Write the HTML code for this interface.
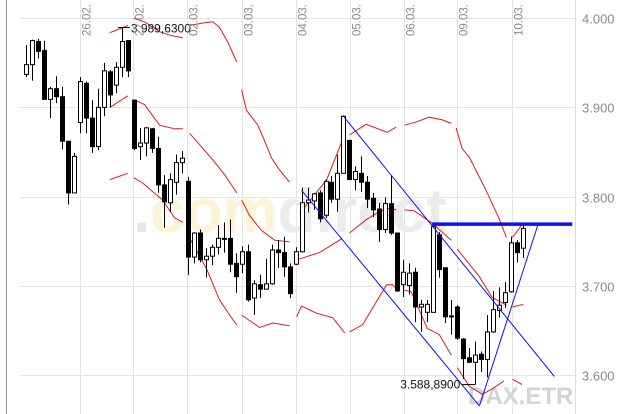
<!DOCTYPE html>
<html><head><meta charset="utf-8"><style>
html,body{margin:0;padding:0;background:#fff;}
svg{display:block;font-family:"Liberation Sans",sans-serif;}
</style></head><body>
<svg id="chart" width="627" height="414" viewBox="0 0 627 414" xmlns="http://www.w3.org/2000/svg">
<g id="grid"></g>
<g id="wm">
<text x="133" y="232" font-size="62" font-weight="bold" fill="#fdf3d6"><tspan fill="#e6e6e6">.</tspan>com<tspan fill="#ececec">direct</tspan></text>
<text x="468" y="404" font-size="24" font-weight="bold" fill="#d4d4d4">DAX.ETR</text>
</g>
<g id="bands"></g>
<g id="candles"></g>
<g id="trend"></g>
<g id="ann"></g>
<g id="axis"></g>
</svg>
<script>
const dayLabels = ["26.02.","27.02.","02.03.","03.03.","04.03.","05.03.","06.03.","09.03.","10.03."];
const dayStartIdx = [9.2,18,27,36.2,45.2,54.2,63.2,72.2,81.3];
const yTicks = [4000,3900,3800,3700,3600];
const yTickLabels = ["4.000","3.900","3.800","3.700","3.600"];
const opens  = [3937,3948,3974,3964,3909,3921,3912,3862,3804,3883,3927,3888,3856,3900,3940,3925,3945,3975,3908,3856,3860,3876,3854,3813,3793,3816,3838,3817,3732,3759,3729,3733,3743,3752,3753,3725,3724,3738,3686,3701,3696,3702,3740,3737,3721,3724,3738,3793,3795,3804,3779,3816,3797,3826,3863,3819,3826,3816,3798,3786,3763,3792,3759,3701,3700,3715,3676,3670,3670,3757,3720,3666,3676,3640,3619,3614,3623,3617,3648,3672,3681,3693,3748,3742];
const highs  = [3970,3976,3977,3975,3923,3935,3923,3862,3849,3934,3929,3908,3921,3950,3942,3951,3990,3975,3908,3877,3878,3877,3867,3824,3826,3847,3851,3822,3760,3763,3742,3746,3768,3771,3774,3736,3744,3746,3706,3712,3730,3746,3751,3755,3725,3743,3810,3810,3804,3807,3819,3823,3847,3891,3863,3834,3845,3823,3804,3793,3799,3823,3759,3729,3725,3720,3684,3684,3768,3760,3720,3684,3678,3641,3630,3637,3626,3667,3694,3698,3704,3755,3751,3770];
const lows   = [3934,3930,3955,3909,3888,3905,3853,3791,3804,3871,3871,3849,3852,3890,3900,3916,3934,3934,3852,3841,3845,3849,3804,3765,3783,3802,3826,3712,3725,3726,3709,3723,3735,3737,3715,3692,3714,3682,3667,3686,3696,3701,3720,3710,3686,3723,3737,3782,3785,3771,3776,3793,3783,3826,3819,3807,3805,3787,3777,3749,3759,3757,3693,3687,3690,3659,3648,3659,3670,3709,3658,3645,3639,3595,3613,3589,3603,3597,3647,3664,3675,3692,3726,3731];
const closes = [3948,3975,3963,3909,3921,3912,3862,3804,3845,3929,3888,3856,3900,3941,3914,3945,3974,3941,3854,3860,3877,3854,3813,3794,3819,3838,3843,3732,3759,3729,3733,3743,3753,3753,3724,3710,3738,3684,3702,3696,3702,3740,3737,3721,3691,3738,3793,3796,3803,3775,3817,3797,3826,3890,3819,3828,3816,3797,3785,3763,3792,3759,3694,3715,3714,3676,3679,3679,3766,3718,3665,3665,3641,3618,3614,3622,3617,3648,3673,3678,3692,3748,3737,3764];
const upperBand = [
 [[14,3984],[16,3989],[17,3992]],
 [[18,4000],[19.8,3996],[22.3,3985],[24,3981],[26.2,3978]],
 [[27.3,3992],[29.8,3995],[31.2,3996],[32.3,3990],[33.7,3973],[35.2,3951]],
 [[36,3920],[36.8,3897],[38.7,3880],[39.8,3863],[41,3843],[42.3,3830],[44,3816]],
 [[45.7,3781],[48.2,3802],[50.2,3819],[52.8,3863]],
 [[54,3869],[56.8,3881],[60.3,3872],[61.8,3878]],
 [[63.2,3880],[65.3,3884],[67.3,3889],[69.5,3886],[71,3882]],
 [[71.8,3877],[72.8,3854],[74,3844],[76.8,3807],[79,3775],[80.2,3754]],
 [[81.2,3754],[83,3770]]];
const middleBand = [
 [[14,3900],[17,3913]],
 [[18,3909],[19.8,3903],[22.3,3880],[24.8,3876],[26.2,3876]],
 [[27.3,3871],[29,3858],[31.2,3841],[33.2,3824],[35.2,3804]],
 [[36,3796],[37.3,3779],[39.3,3762],[41.5,3751],[44,3749]],
 [[45.2,3729],[49,3737],[52.8,3753]],
 [[54,3759],[56.8,3774],[59,3783],[60.7,3787],[61.8,3785]],
 [[63.2,3785],[64.8,3784],[67.8,3770],[71,3751]],
 [[72,3741],[75.7,3710],[77.8,3687],[80.2,3678]],
 [[81.2,3676],[83,3679]]];
const lowerBand = [
 [[14,3819],[17,3826]],
 [[18,3821],[19.5,3815],[22.8,3796],[24.8,3776],[26.2,3771]],
 [[27.2,3755],[30.2,3718],[32.3,3684],[34.5,3662],[35.2,3656]],
 [[36,3667],[39,3653],[41.2,3658],[44,3655]],
 [[45.2,3665],[46,3677],[48.5,3669],[51.2,3664],[53.2,3647]],
 [[54,3648],[56.2,3656],[60.2,3701],[61.2,3701],[62,3695]],
 [[63.2,3695],[64.3,3693],[67,3652],[69,3645],[71,3622]],
 [[72,3608],[74,3587],[76.2,3578],[77.8,3584],[79.8,3593]],
 [[81.2,3595],[82.8,3589]]];
const trendUpper = [[53,3890],[88.2,3598]];
const trendLower = [[46,3807],[75.7,3565]];
const trendRise  = [[75.7,3565],[85.5,3769]];
const resistance = [[67.8,3769],[91.2,3769]];
const highLabel = {idx:17, value:3989.63, text:"3.989,6300"};
const lowLabel  = {idx:75, value:3588.89, text:"3.588,8900"};

const NS="http://www.w3.org/2000/svg";
const X = i => 26 + i*5.99;
const Y = v => 18.3 + (4000 - v)*0.891;
function mk(tag, attrs, parent){const e=document.createElementNS(NS,tag);for(const k in attrs)e.setAttribute(k,attrs[k]);parent.appendChild(e);return e;}
const grid=document.getElementById('grid'), bands=document.getElementById('bands'), cg=document.getElementById('candles'), tg=document.getElementById('trend'), ann=document.getElementById('ann'), ax=document.getElementById('axis');

// frame
let fr=mk('line',{x1:6.5,y1:0,x2:6.5,y2:414,stroke:'#999','stroke-width':1},grid);


let fr2=mk('line',{x1:575.5,y1:0,x2:575.5,y2:414,stroke:'#ddd','stroke-width':1},grid);



yTicks.forEach((v,k)=>{
  const y=Math.round(Y(v))+0.5;
  const l=mk('line',{x1:20,y1:y,x2:575,y2:y,stroke:'#e4e4e4','stroke-width':1},grid);
  
  
  const t=mk('text',{x:582,y:y+5,'font-size':13,fill:'#8a8a8a'},ax);
  t.textContent=yTickLabels[k];
  
  
});
dayLabels.forEach((d,k)=>{
  const x=Math.round(X(dayStartIdx[k])-1)+0.5;
  const l=mk('line',{x1:x,y1:0,x2:x,y2:414,stroke:'#e4e4e4','stroke-width':1},grid);
  
  
  const t=mk('text',{x:0,y:0,'font-size':11.5,fill:'#8a8a8a',transform:`translate(${x+10},36) rotate(-90)`},ax);
  t.textContent=d;
  
  
});

function drawBand(segs,name){
  segs.forEach(s=>{
    const p=mk('polyline',{points:s.map(q=>X(q[0]).toFixed(1)+','+Y(q[1]).toFixed(1)).join(' '),fill:'none',stroke:'#d42020','stroke-width':1},bands);
    
    
  });
}
drawBand(upperBand,'upper-band');
drawBand(middleBand,'middle-band');
drawBand(lowerBand,'lower-band');

opens.forEach((o,i)=>{
  const x=Math.round(X(i))+0.5, c=closes[i];
  const w=mk('line',{x1:x,y1:Y(highs[i]),x2:x,y2:Y(lows[i]),stroke:'#000','stroke-width':1},cg);
  
  
  const top=Y(Math.max(o,c)), bot=Y(Math.min(o,c));
  const b=mk('rect',{x:x-2,y:top,width:4,height:Math.max(1,bot-top),fill:c<o?'#000':'#fff',stroke:'#000','stroke-width':1},cg);
  
  
});

function tl(pts,w,name){
  const l=mk('line',{x1:X(pts[0][0]),y1:Y(pts[0][1]),x2:X(pts[1][0]),y2:Y(pts[1][1]),stroke:'#1010ee','stroke-width':w},tg);
  
  
}
tl(trendUpper,1,'channel-upper-line');
tl(trendLower,1,'channel-lower-line');
tl(trendRise,1,'rising-trend-line');
tl(resistance,3.5,'resistance-line');

{
  const x=X(highLabel.idx), y=Y(highLabel.value);
  const l=mk('line',{x1:x-10,y1:y,x2:x+2,y2:y,stroke:'#000','stroke-width':1},ann);
  
  
  const t=mk('text',{x:x+3,y:y+5,'font-size':12,fill:'#111'},ann);
  t.textContent=highLabel.text;
  
  
}
{
  const x=X(lowLabel.idx), y=Y(lowLabel.value);
  const l=mk('line',{x1:x-14,y1:y,x2:x,y2:y,stroke:'#000','stroke-width':1},ann);
  
  
  const t=mk('text',{x:x-15,y:y+4,'font-size':12,fill:'#111','text-anchor':'end'},ann);
  t.textContent=lowLabel.text;
  
  
}
</script>
</body></html>
